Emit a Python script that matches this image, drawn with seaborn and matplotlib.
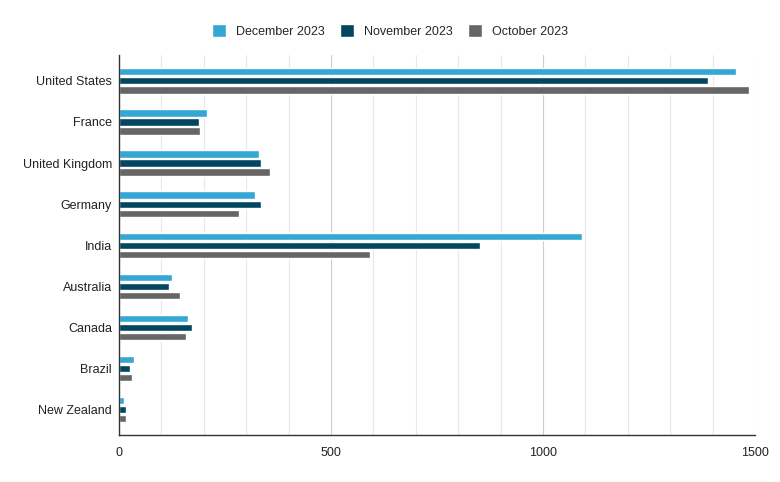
import pandas as pd
import matplotlib.pyplot as plt
import seaborn as sns
from matplotlib.ticker import MultipleLocator

sns.set_style("white")
plt.rcParams['font.family'] = ['Liberation Sans', 'DejaVu Sans']

# ---- data ----
countries = ['United States', 'France', 'United Kingdom', 'Germany', 'India',
             'Australia', 'Canada', 'Brazil', 'New Zealand']
months = ['December 2023', 'November 2023', 'October 2023']
dec_2023 = [1455, 208, 331, 320, 1092, 125, 162, 35, 11]
nov_2023 = [1390, 188, 334, 336, 851, 119, 171, 27, 16]
oct_2023 = [1487, 190, 355, 284, 592, 143, 159, 30, 16]
colors = ['#35A7D5', '#03465F', '#666666']

df = pd.DataFrame({
    'country': countries * 3,
    'month': [months[0]] * 9 + [months[1]] * 9 + [months[2]] * 9,
    'value': dec_2023 + nov_2023 + oct_2023,
})

fig = plt.figure(figsize=(7.8, 4.82), dpi=100)
ax = fig.add_axes([119 / 780, 1 - 435 / 482, (755 - 119) / 780, 380 / 482])

sns.barplot(data=df, y='country', x='value', hue='month', orient='h',
            palette=colors, saturation=1, width=0.66, gap=0.2, ax=ax, legend=True)

ax.set_xlim(0, 1500)
ax.set_ylim(8.62, -0.63)
ax.xaxis.set_major_locator(MultipleLocator(500))
ax.xaxis.set_minor_locator(MultipleLocator(100))
ax.grid(axis='x', which='minor', color='#e8e8e8', linewidth=0.8)
ax.grid(axis='x', which='major', color='#cfcfcf', linewidth=0.8)
ax.set_axisbelow(True)
ax.set_xlabel('')
ax.set_ylabel('')
ax.tick_params(axis='both', length=0, labelsize=9, colors='#222222')
ax.tick_params(axis='y', pad=5)
ax.tick_params(axis='x', pad=9)

for side in ['top', 'right']:
    ax.spines[side].set_visible(False)
for side in ['left', 'bottom']:
    ax.spines[side].set_color('#333333')
    ax.spines[side].set_linewidth(1)

handles, labels = ax.get_legend_handles_labels()
ax.get_legend().remove()
fig.legend(handles, labels, loc='center', bbox_to_anchor=(0.5, 1 - 31 / 482),
           ncol=3, frameon=False, fontsize=9, handlelength=1.15, handleheight=1.15,
           handletextpad=0.8, columnspacing=1.2)

fig.savefig('out.png', dpi=100)
plt.close()
